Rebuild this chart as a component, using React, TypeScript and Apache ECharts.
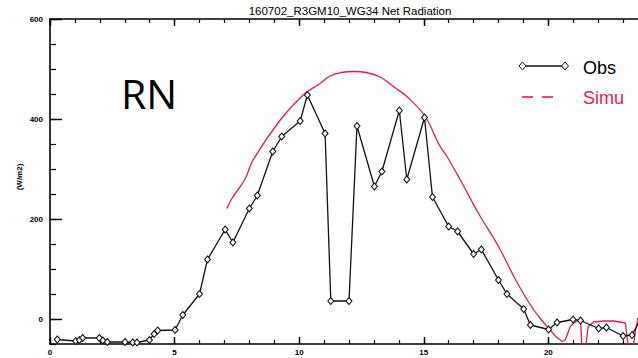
import React, { useEffect, useRef } from "react";
import * as echarts from "echarts";

const titleText = "160702_R3GM10_WG34 Net Radiation";
const yAxisName = "(W/m2)";
const yMajorTicks = [0, 200, 400, 600];

const obsHours = [0.29, 1.03, 1.18, 1.31, 1.98, 2.12, 2.3, 3.01, 3.32, 3.49, 3.99, 4.18, 4.32, 5.02, 5.33, 6.0, 6.32, 7.03, 7.34, 8.0, 8.32, 8.94, 9.3, 10.04, 10.33, 11.04, 11.27, 12.0, 12.32, 13.02, 13.32, 14.02, 14.32, 15.03, 15.35, 16.0, 16.36, 17.0, 17.31, 18.0, 18.34, 19.01, 19.28, 20.01, 20.35, 20.99, 21.29, 22.02, 22.33, 23.0, 23.36, 23.7];
const obsValues = [-41, -44, -42, -38, -38, -43, -46, -46, -47, -47, -42, -30, -23, -22, 8, 50, 119, 179, 153, 221, 247, 335, 365, 396, 448, 371, 36, 36, 386, 265, 295, 417, 279, 403, 244, 185, 175, 130, 139, 78, 50, 20, -12, -21, -7, -1, -3, -19, -17, -34, -32, 0];

// Simulated net radiation: daytime part (smooth) and night part (sharp)
const simuDayHours = [7.1, 7.3, 7.83, 8.15, 9.24, 10.16, 10.84, 11.24, 11.7, 12.18, 12.7, 13.25, 13.86, 14.32, 15.06, 15.6, 15.93, 16.47, 17.2, 18.0, 18.67, 19.28, 19.68, 19.95];
const simuDayValues = [221, 241, 280, 318, 398, 448, 471, 486, 493, 495, 493, 484, 462, 445, 405, 350, 325, 278, 211, 145, 80, 28, 1, -15];
const simuNightHours = [19.95, 20.3, 20.55, 20.68, 20.88, 21.1, 21.22, 21.3, 21.35, 21.49, 21.6, 21.82, 22.2, 22.62, 23.09, 23.16, 23.22, 23.4, 23.5, 23.6];
const simuNightValues = [-15, -35, -45, -42, -15, -5, -3, -8, -60, -60, -15, -6, -4, -4, -8, -35, -60, -60, -22, 0];

const RED = "#e8194b";
const FONT = "Liberation Sans";

export default function App() {
  const ref = useRef<HTMLDivElement>(null);
  useEffect(() => {
    if (!ref.current) return;
    const chart = echarts.init(ref.current, undefined, { renderer: "svg" });
    const obsData = obsHours.map((h, i) => [h, obsValues[i]]);
    const simuDay = simuDayHours.map((h, i) => [h, simuDayValues[i]]);
    const simuNight = simuNightHours.map((h, i) => [h, simuNightValues[i]]);
    const axisLineStyle = { color: "#000", width: 1.6 };
    const xBase = { type: "value", min: 0, max: 24, splitLine: { show: false } };
    chart.setOption({
      animation: false,
      backgroundColor: "#fff",
      grid: { left: 50, top: 19, bottom: 14, right: -10, containLabel: false, outerBoundsMode: "none" },
      xAxis: [
        {
          ...xBase, position: "bottom", interval: 5,
          axisLine: { onZero: false, lineStyle: axisLineStyle },
          axisTick: { inside: true, length: 7, lineStyle: { color: "#000", width: 1.4 } },
          axisLabel: { color: "#000", fontSize: 8, fontFamily: FONT, fontWeight: "bold", margin: 4 },
        },
        {
          ...xBase, position: "bottom", interval: 1,
          axisLine: { onZero: false, show: false },
          axisTick: { inside: true, length: 4, lineStyle: { color: "#000", width: 1.2 } },
          axisLabel: { show: false },
        },
        {
          ...xBase, position: "top", interval: 5,
          axisLine: { onZero: false, lineStyle: axisLineStyle },
          axisTick: { inside: true, length: 7, lineStyle: { color: "#000", width: 1.4 } },
          axisLabel: { show: false },
        },
        {
          ...xBase, position: "top", interval: 1,
          axisLine: { onZero: false, show: false },
          axisTick: { inside: true, length: 4, lineStyle: { color: "#000", width: 1.2 } },
          axisLabel: { show: false },
        },
      ],
      yAxis: [
        {
          type: "value", min: -50, max: 600, position: "left",
          splitLine: { show: false },
          axisLine: { onZero: false, lineStyle: axisLineStyle },
          axisTick: { inside: true, length: 12, customValues: yMajorTicks, lineStyle: { color: "#000", width: 1.4 } },
          axisLabel: { customValues: yMajorTicks, color: "#000", fontSize: 8, fontFamily: FONT, fontWeight: "bold", margin: 7 },
        },
        {
          type: "value", min: -50, max: 600, interval: 50, position: "left",
          splitLine: { show: false },
          axisLine: { onZero: false, show: false },
          axisTick: { inside: true, length: 6, lineStyle: { color: "#000", width: 1.2 } },
          axisLabel: { show: false },
        },
      ],
      series: [
        {
          name: "Simu", type: "line", xAxisIndex: 0, yAxisIndex: 0, data: simuDay,
          showSymbol: false, symbol: "none", clip: true, smooth: 0.4,
          lineStyle: { color: RED, width: 1.3 },
          z: 2,
        },
        {
          name: "Simu", type: "line", xAxisIndex: 0, yAxisIndex: 0, data: simuNight,
          showSymbol: false, symbol: "none", clip: true,
          lineStyle: { color: RED, width: 1.3 },
          z: 2,
        },
        {
          name: "Obs", type: "line", xAxisIndex: 0, yAxisIndex: 0, data: obsData,
          symbol: "diamond", symbolSize: [6, 7], showSymbol: true, clip: true,
          itemStyle: { color: "#fff", borderColor: "#111", borderWidth: 1 },
          lineStyle: { color: "#111", width: 1.3 },
          z: 3,
        },
      ],
      graphic: [
        {
          type: "text", x: 350, y: 11, style: { text: titleText, fontSize: 11.5, fontFamily: FONT, fill: "#000", align: "center", verticalAlign: "middle" },
        },
        {
          type: "text", x: 19, y: 177, rotation: Math.PI / 2,
          style: { text: yAxisName, fontSize: 8, fontFamily: FONT, fontWeight: "bold", fill: "#000", align: "center", verticalAlign: "middle" },
        },
        {
          type: "text", x: 121, y: 93, style: { text: "RN", fontSize: 41, fontFamily: "Open Sans", fill: "#000", verticalAlign: "middle" },
        },
        { type: "line", shape: { x1: 522, y1: 66, x2: 565, y2: 66 }, style: { stroke: "#111", lineWidth: 1.4 } },
        { type: "polygon", shape: { points: [[522.5, 62], [526, 66], [522.5, 70], [519, 66]] }, style: { fill: "#fff", stroke: "#111", lineWidth: 1 } },
        { type: "polygon", shape: { points: [[565, 62], [568.5, 66], [565, 70], [561.5, 66]] }, style: { fill: "#fff", stroke: "#111", lineWidth: 1 } },
        { type: "text", x: 583, y: 68, style: { text: "Obs", fontSize: 18, fontFamily: FONT, fill: "#000", verticalAlign: "middle" } },
        { type: "line", shape: { x1: 522, y1: 97, x2: 533, y2: 97 }, style: { stroke: RED, lineWidth: 1.6 } },
        { type: "line", shape: { x1: 542, y1: 97, x2: 553, y2: 97 }, style: { stroke: RED, lineWidth: 1.6 } },
        { type: "text", x: 583, y: 98, style: { text: "Simu", fontSize: 18, fontFamily: FONT, fill: RED, verticalAlign: "middle" } },
      ],
    });
    return () => chart.dispose();
  }, []);
  return <div ref={ref} style={{ width: 638, height: 358, position: "absolute", left: 0, top: 0 }} />;
}
